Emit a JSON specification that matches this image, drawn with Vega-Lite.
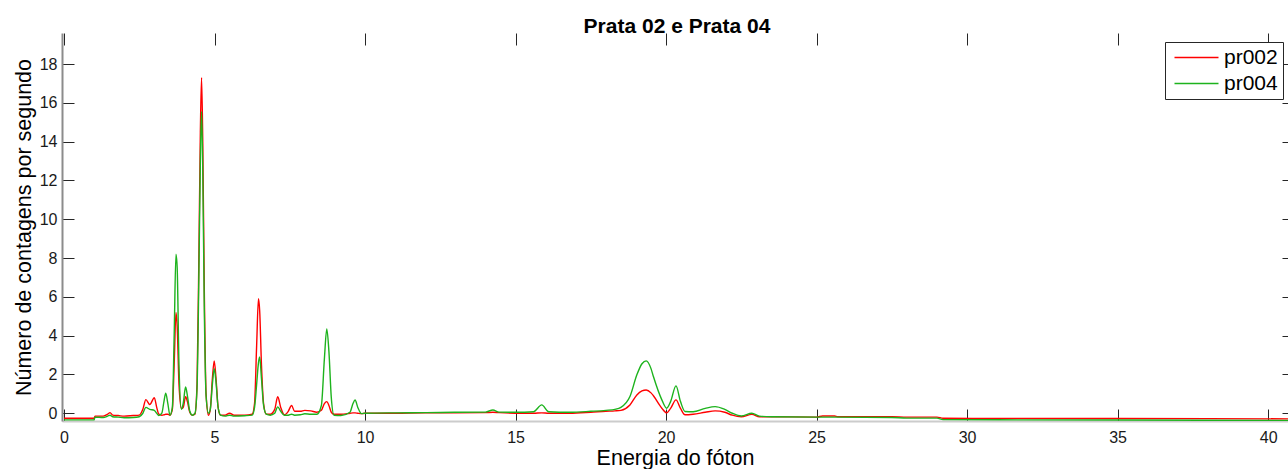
{
  "$schema": "https://vega.github.io/schema/vega-lite/v6.json",
  "width": 1226,
  "height": 388,
  "autosize": {"type": "none"},
  "padding": {"left": 62, "top": 33, "right": 0, "bottom": 48},
  "background": "white",
  "title": {"text": "Prata 02 e Prata 04", "font": "Liberation Sans", "fontSize": 21, "fontWeight": "bold", "color": "#000000", "anchor": "middle", "baseline": "alphabetic", "offset": -21, "dx": 2},
  "config": {"view": {"stroke": null}, "font": "Liberation Sans"},
  "data": {"values": [
    {"e": 0.0, "pr002": -0.26, "pr004": -0.34},
    {"e": 1.0, "pr002": -0.26, "pr004": -0.34},
    {"e": 1.03, "pr002": -0.15, "pr004": -0.2},
    {"e": 1.3, "pr002": -0.15, "pr004": -0.22},
    {"e": 1.45, "pr002": -0.05, "pr004": -0.15},
    {"e": 1.53, "pr002": 0.03, "pr004": -0.1},
    {"e": 1.62, "pr002": -0.1, "pr004": -0.18},
    {"e": 1.8, "pr002": -0.12, "pr004": -0.2},
    {"e": 2.0, "pr002": -0.15, "pr004": -0.23},
    {"e": 2.3, "pr002": -0.12, "pr004": -0.22},
    {"e": 2.5, "pr002": -0.1, "pr004": -0.18},
    {"e": 2.62, "pr002": 0.2, "pr004": 0.0},
    {"e": 2.72, "pr002": 0.7, "pr004": 0.3},
    {"e": 2.85, "pr002": 0.45, "pr004": 0.2},
    {"e": 3.0, "pr002": 0.8, "pr004": 0.15},
    {"e": 3.08, "pr002": 0.3, "pr004": 0.0},
    {"e": 3.15, "pr002": -0.05, "pr004": -0.12},
    {"e": 3.25, "pr002": -0.1, "pr004": 0.0},
    {"e": 3.32, "pr002": -0.08, "pr004": 0.6},
    {"e": 3.38, "pr002": -0.05, "pr004": 1.03},
    {"e": 3.45, "pr002": -0.05, "pr004": 0.5},
    {"e": 3.52, "pr002": -0.1, "pr004": -0.1},
    {"e": 3.6, "pr002": 0.2, "pr004": 0.3},
    {"e": 3.66, "pr002": 2.5, "pr004": 4.0},
    {"e": 3.72, "pr002": 5.2, "pr004": 8.2},
    {"e": 3.76, "pr002": 4.5, "pr004": 7.5},
    {"e": 3.82, "pr002": 1.5, "pr004": 2.5},
    {"e": 3.9, "pr002": 0.25, "pr004": 0.2},
    {"e": 3.96, "pr002": 0.3, "pr004": 0.5},
    {"e": 4.04, "pr002": 0.85, "pr004": 1.35},
    {"e": 4.1, "pr002": 0.6, "pr004": 0.9},
    {"e": 4.18, "pr002": 0.05, "pr004": 0.1},
    {"e": 4.26, "pr002": -0.1, "pr004": -0.1},
    {"e": 4.35, "pr002": -0.05, "pr004": 0.0},
    {"e": 4.42, "pr002": 1.5, "pr004": 1.3},
    {"e": 4.48, "pr002": 8.0, "pr004": 7.0},
    {"e": 4.53, "pr002": 14.5, "pr004": 13.0},
    {"e": 4.57, "pr002": 17.3, "pr004": 15.55},
    {"e": 4.61, "pr002": 14.0, "pr004": 12.5},
    {"e": 4.66, "pr002": 6.5, "pr004": 5.5},
    {"e": 4.72, "pr002": 1.0, "pr004": 0.9},
    {"e": 4.8, "pr002": -0.1, "pr004": 0.0},
    {"e": 4.86, "pr002": 0.2, "pr004": 0.2},
    {"e": 4.93, "pr002": 1.8, "pr004": 1.5},
    {"e": 4.99, "pr002": 2.7, "pr004": 2.3},
    {"e": 5.05, "pr002": 1.8, "pr004": 1.6},
    {"e": 5.12, "pr002": 0.3, "pr004": 0.3},
    {"e": 5.2, "pr002": -0.1, "pr004": -0.1},
    {"e": 5.35, "pr002": -0.1, "pr004": -0.15},
    {"e": 5.5, "pr002": 0.0, "pr004": -0.1},
    {"e": 5.65, "pr002": -0.1, "pr004": -0.15},
    {"e": 6.0, "pr002": -0.1, "pr004": -0.13},
    {"e": 6.25, "pr002": -0.05, "pr004": -0.1},
    {"e": 6.33, "pr002": 0.5, "pr004": 0.3},
    {"e": 6.4, "pr002": 3.5, "pr004": 1.5},
    {"e": 6.46, "pr002": 5.9, "pr004": 2.6},
    {"e": 6.5, "pr002": 5.3, "pr004": 2.9},
    {"e": 6.56, "pr002": 2.5, "pr004": 1.8},
    {"e": 6.63, "pr002": 0.5, "pr004": 0.4},
    {"e": 6.72, "pr002": -0.05, "pr004": -0.05},
    {"e": 6.85, "pr002": -0.05, "pr004": -0.1},
    {"e": 7.0, "pr002": 0.2, "pr004": 0.0},
    {"e": 7.1, "pr002": 0.85, "pr004": 0.33},
    {"e": 7.2, "pr002": 0.3, "pr004": 0.1},
    {"e": 7.32, "pr002": -0.08, "pr004": -0.1},
    {"e": 7.45, "pr002": 0.1, "pr004": -0.1},
    {"e": 7.56, "pr002": 0.4, "pr004": -0.05},
    {"e": 7.66, "pr002": 0.1, "pr004": -0.1},
    {"e": 7.85, "pr002": 0.1, "pr004": -0.08},
    {"e": 8.0, "pr002": 0.15, "pr004": -0.03},
    {"e": 8.2, "pr002": 0.12, "pr004": -0.05},
    {"e": 8.4, "pr002": 0.05, "pr004": -0.05},
    {"e": 8.55, "pr002": 0.15, "pr004": 0.4},
    {"e": 8.65, "pr002": 0.5, "pr004": 2.8},
    {"e": 8.73, "pr002": 0.6, "pr004": 4.35},
    {"e": 8.8, "pr002": 0.4, "pr004": 3.2},
    {"e": 8.88, "pr002": 0.05, "pr004": 0.8},
    {"e": 8.97, "pr002": -0.05, "pr004": -0.1},
    {"e": 9.2, "pr002": -0.05, "pr004": -0.12},
    {"e": 9.5, "pr002": 0.0, "pr004": 0.05},
    {"e": 9.6, "pr002": 0.02, "pr004": 0.5},
    {"e": 9.67, "pr002": 0.02, "pr004": 0.68},
    {"e": 9.76, "pr002": 0.0, "pr004": 0.3},
    {"e": 9.88, "pr002": -0.02, "pr004": -0.02},
    {"e": 10.0, "pr002": 0.0, "pr004": 0.0},
    {"e": 11.0, "pr002": 0.0, "pr004": 0.02},
    {"e": 12.0, "pr002": 0.02, "pr004": 0.03},
    {"e": 13.0, "pr002": 0.02, "pr004": 0.05},
    {"e": 14.0, "pr002": 0.03, "pr004": 0.06},
    {"e": 14.25, "pr002": 0.05, "pr004": 0.17},
    {"e": 14.45, "pr002": 0.03, "pr004": 0.06},
    {"e": 15.0, "pr002": 0.0, "pr004": 0.05},
    {"e": 15.6, "pr002": 0.0, "pr004": 0.08},
    {"e": 15.87, "pr002": 0.02, "pr004": 0.43},
    {"e": 16.1, "pr002": 0.0, "pr004": 0.08},
    {"e": 16.8, "pr002": 0.0, "pr004": 0.05},
    {"e": 17.5, "pr002": 0.05, "pr004": 0.1},
    {"e": 18.0, "pr002": 0.1, "pr004": 0.15},
    {"e": 18.3, "pr002": 0.12, "pr004": 0.2},
    {"e": 18.5, "pr002": 0.15, "pr004": 0.3},
    {"e": 18.8, "pr002": 0.43, "pr004": 0.86},
    {"e": 19.03, "pr002": 0.94, "pr004": 1.98},
    {"e": 19.2, "pr002": 1.15, "pr004": 2.55},
    {"e": 19.34, "pr002": 1.2, "pr004": 2.7},
    {"e": 19.5, "pr002": 1.05, "pr004": 2.3},
    {"e": 19.58, "pr002": 0.9, "pr004": 1.89},
    {"e": 19.86, "pr002": 0.26, "pr004": 0.69},
    {"e": 20.02, "pr002": 0.02, "pr004": 0.26},
    {"e": 20.15, "pr002": 0.25, "pr004": 0.6},
    {"e": 20.33, "pr002": 0.69, "pr004": 1.41},
    {"e": 20.48, "pr002": 0.25, "pr004": 0.6},
    {"e": 20.63, "pr002": -0.08, "pr004": 0.09},
    {"e": 20.9, "pr002": -0.05, "pr004": 0.08},
    {"e": 21.3, "pr002": 0.05, "pr004": 0.25},
    {"e": 21.63, "pr002": 0.12, "pr004": 0.34},
    {"e": 21.95, "pr002": 0.05, "pr004": 0.2},
    {"e": 22.2, "pr002": -0.1, "pr004": 0.0},
    {"e": 22.5, "pr002": -0.18, "pr004": -0.14},
    {"e": 22.85, "pr002": -0.06, "pr004": 0.0},
    {"e": 23.1, "pr002": -0.18, "pr004": -0.15},
    {"e": 23.5, "pr002": -0.18, "pr004": -0.18},
    {"e": 25.0, "pr002": -0.2, "pr004": -0.2},
    {"e": 25.2, "pr002": -0.14, "pr004": -0.2},
    {"e": 25.6, "pr002": -0.14, "pr004": -0.2},
    {"e": 25.7, "pr002": -0.18, "pr004": -0.2},
    {"e": 27.5, "pr002": -0.18, "pr004": -0.22},
    {"e": 28.0, "pr002": -0.2, "pr004": -0.25},
    {"e": 29.0, "pr002": -0.2, "pr004": -0.25},
    {"e": 29.2, "pr002": -0.26, "pr004": -0.33},
    {"e": 35.0, "pr002": -0.27, "pr004": -0.35},
    {"e": 40.66, "pr002": -0.29, "pr004": -0.37}
  ]},
  "transform": [{"fold": ["pr002", "pr004"], "as": ["serie", "v"]}],
  "layer": [
    {
      "mark": {"type": "line", "interpolate": "monotone", "strokeWidth": 1.4},
      "encoding": {
        "x": {"field": "e", "type": "quantitative",
          "scale": {"domain": [-0.066, 40.66], "nice": false, "zero": false},
          "axis": {"orient": "bottom", "title": "Energia do fóton", "values": [0, 5, 10, 15, 20, 25, 30, 35, 40],
            "grid": false, "domainColor": "#cccccc", "domainWidth": 2, "tickColor": "#262626", "tickSize": -12, "tickWidth": 1,
            "labelFontSize": 16, "labelColor": "#1a1a1a", "labelPadding": 20, "labelFlush": false, "labelBaseline": "top",
            "titleFontSize": 21.5, "titleFontWeight": "normal", "titleColor": "#000000", "titleBaseline": "alphabetic", "titleY": 43}
        },
        "y": {"field": "v", "type": "quantitative",
          "scale": {"domain": [-0.4, 19.6], "nice": false, "zero": false},
          "axis": {"orient": "left", "title": "Número de contagens por segundo", "values": [0, 2, 4, 6, 8, 10, 12, 14, 16, 18],
            "grid": false, "domainColor": "#8c8c8c", "domainWidth": 2, "tickColor": "#262626", "tickSize": -12, "tickWidth": 1,
            "labelFontSize": 16, "labelColor": "#1a1a1a", "labelPadding": 17, "labelFlush": false,
            "titleFontSize": 21.5, "titleFontWeight": "normal", "titleColor": "#000000", "titleAngle": 270, "titleBaseline": "alphabetic", "titleAlign": "center", "titleX": -32, "titleY": 194}
        },
        "color": {"field": "serie", "type": "nominal",
          "scale": {"domain": ["pr002", "pr004"], "range": ["#ff0000", "#1db31d"]},
          "legend": {"orient": "none", "legendX": 1103, "legendY": 9, "title": null,
            "strokeColor": "#262626", "fillColor": "#ffffff", "padding": 5,
            "symbolType": "M-4,0H4", "symbolSize": 121, "symbolStrokeWidth": 1.5, "symbolOffset": 16,
            "labelFontSize": 21, "labelColor": "#000000", "labelOffset": 17, "rowPadding": 4}
        }
      }
    },
    {
      "mark": {"type": "line", "opacity": 0},
      "encoding": {
        "x": {"field": "e", "type": "quantitative",
          "scale": {"domain": [-0.066, 40.66], "nice": false, "zero": false},
          "axis": {"orient": "top", "title": null, "labels": false, "domain": false, "grid": false, "values": [0, 5, 10, 15, 20, 25, 30, 35, 40],
            "tickColor": "#262626", "tickSize": -12, "tickWidth": 1}
        },
        "y": {"field": "v", "type": "quantitative",
          "scale": {"domain": [-0.4, 19.6], "nice": false, "zero": false},
          "axis": {"orient": "right", "title": null, "labels": false, "domain": false, "grid": false, "values": [0, 2, 4, 6, 8, 10, 12, 14, 16, 18],
            "tickColor": "#262626", "tickSize": -6, "tickWidth": 1}
        }
      }
    }
  ],
  "resolve": {"axis": {"x": "independent", "y": "independent"}}
}
